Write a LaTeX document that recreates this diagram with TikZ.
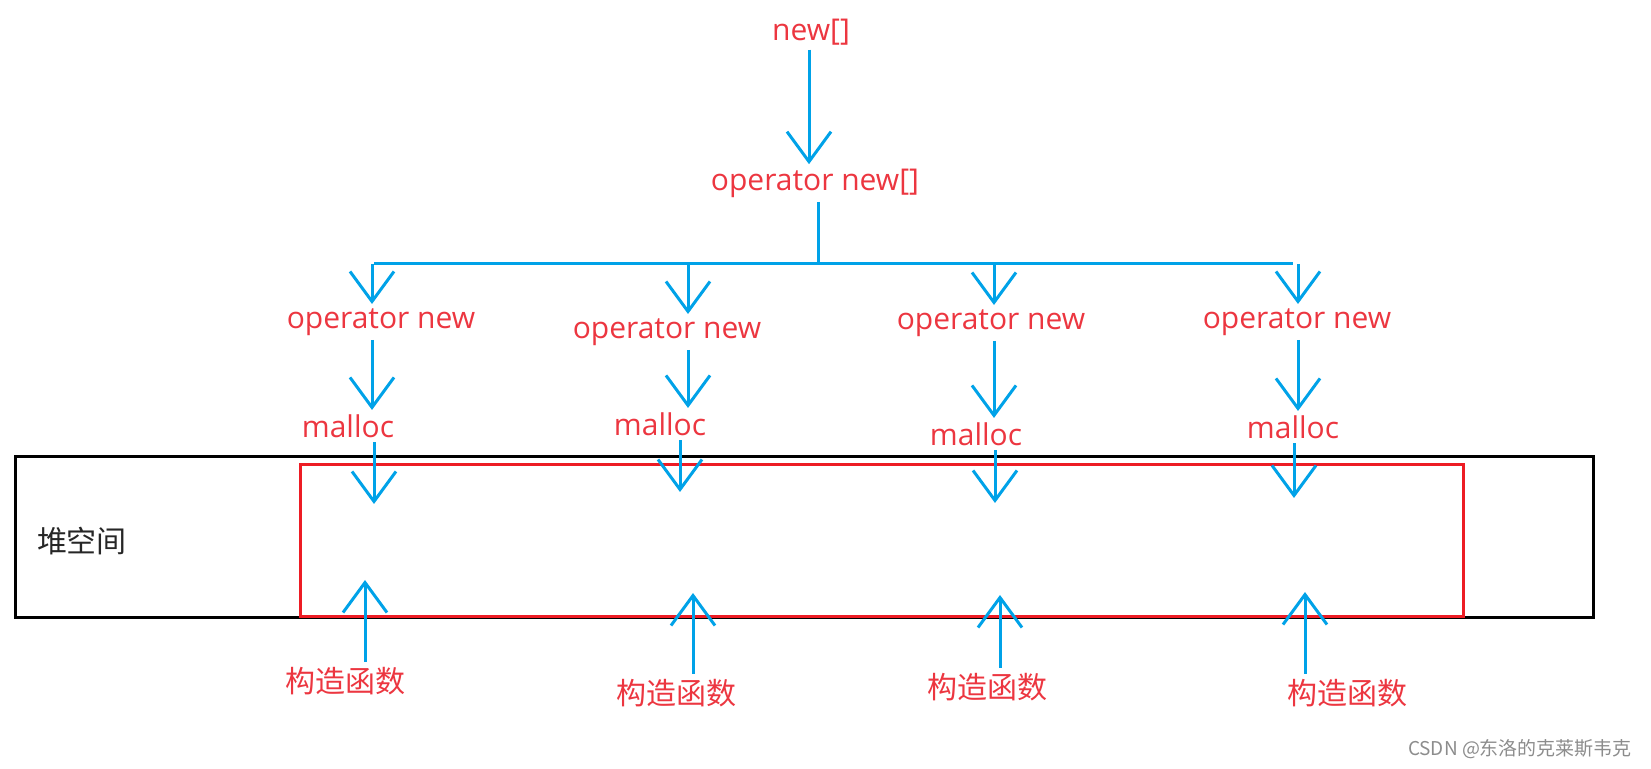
\documentclass[tikz,border=0pt]{standalone}
\usepackage{fontspec}
\setmainfont{Open Sans}
\newfontfamily\cjk{Noto Sans CJK SC}
\usetikzlibrary{arrows.meta}
\definecolor{penblue}{RGB}{0,162,232}
\definecolor{penred}{RGB}{237,28,36}
\definecolor{txtred}{RGB}{236,54,64}

\begin{document}
\begin{tikzpicture}[x=0.5pt,y=-0.5pt,line width=1.5pt,
  lbl/.style={text=txtred,font=\fontsize{15}{18}\selectfont,inner sep=1.5pt},
  ctor/.style={text=txtred,font=\cjk\fontsize{15}{18}\selectfont,inner sep=2pt},
  wire/.style={penblue,line width=1.5pt},
  arr/.style={wire,-{Straight Barb[length=15pt,width=22pt]}}]
  \useasboundingbox (0,0) rectangle (1651,769);
  % ===================== heap (bottom band) =====================
  \draw[black] (15,457) rectangle (1593,618);
  \draw[penred] (300,465) rectangle (1463,617);
  \node[text=black!85,font=\cjk\fontsize{15}{18}\selectfont] (heap) at (82,541){堆空间};
  % ===================== new[] (top) =====================
  \node[lbl] (newarr) at (811,32){new[]};
  \node[lbl] (opnewarr) at (815,183){operator new[]};
  \draw[arr] (newarr.south -| 809,0) -- (opnewarr.north -| 809,0);
  % bus to the four operator new
  \coordinate (busL) at (374,264);
  \coordinate (busR) at (1293,264);
  \coordinate (cA) at (372,0);
  \coordinate (cB) at (688,0);
  \coordinate (cC) at (994,0);
  \coordinate (cD) at (1298,0);
  \draw[wire] (opnewarr.south -| 818,0) -- (818,264);
  \draw[wire] (busL) -- (busR);
  % ===================== operator new / malloc =====================
  \node[lbl] (opnewA) at (381,322){operator new};
  \node[lbl] (opnewB) at (667,332){operator new};
  \node[lbl] (opnewC) at (991,323){operator new};
  \node[lbl] (opnewD) at (1297,322){operator new};
  \node[lbl] (mallocA) at (348,426){malloc};
  \node[lbl] (mallocB) at (660,424){malloc};
  \node[lbl] (mallocC) at (976,434){malloc};
  \node[lbl] (mallocD) at (1293,427){malloc};
  \draw[arr] (cA |- busL) -- (opnewA.north -| cA);
  \draw[arr] (cB |- busL) -- (opnewB.north -| cB);
  \draw[arr] (cC |- busL) -- (opnewC.north -| cC);
  \draw[arr] (cD |- busL) -- (opnewD.north -| cD);
  \draw[arr] (opnewA.south -| cA) -- (mallocA.north -| cA);
  \draw[arr] (opnewB.south -| cB) -- (mallocB.north -| cB);
  \draw[arr] (opnewC.south -| cC) -- (mallocC.north -| cC);
  \draw[arr] (opnewD.south -| cD) -- (mallocD.north -| cD);
  % ---------- into the heap ----------
  \coordinate (inA) at (374,504);
  \coordinate (inB) at (680,492);
  \coordinate (inC) at (995,503);
  \coordinate (inD) at (1294,498);
  \draw[arr] (mallocA.south -| inA) -- (inA);
  \draw[arr] (mallocB.south -| inB) -- (inB);
  \draw[arr] (mallocC.south -| inC) -- (inC);
  \draw[arr] (mallocD.south -| inD) -- (inD);
  % ===================== constructors (below) =====================
  \node[ctor] (ctorA) at (345,681){构造函数};
  \node[ctor] (ctorB) at (676,693){构造函数};
  \node[ctor] (ctorC) at (987,687){构造函数};
  \node[ctor] (ctorD) at (1347,693){构造函数};
  \coordinate (upA) at (365,580);
  \coordinate (upB) at (693,593);
  \coordinate (upC) at (1000,595);
  \coordinate (upD) at (1305,592);
  \draw[arr] (ctorA.north -| upA) -- (upA);
  \draw[arr] (ctorB.north -| upB) -- (upB);
  \draw[arr] (ctorC.north -| upC) -- (upC);
  \draw[arr] (ctorD.north -| upD) -- (upD);
  % watermark
  \node[text=black!45,font=\cjk\fontsize{9.5}{11}\selectfont] (mark) at (1520,749){CSDN @东洛的克莱斯韦克};
\end{tikzpicture}
\end{document}
